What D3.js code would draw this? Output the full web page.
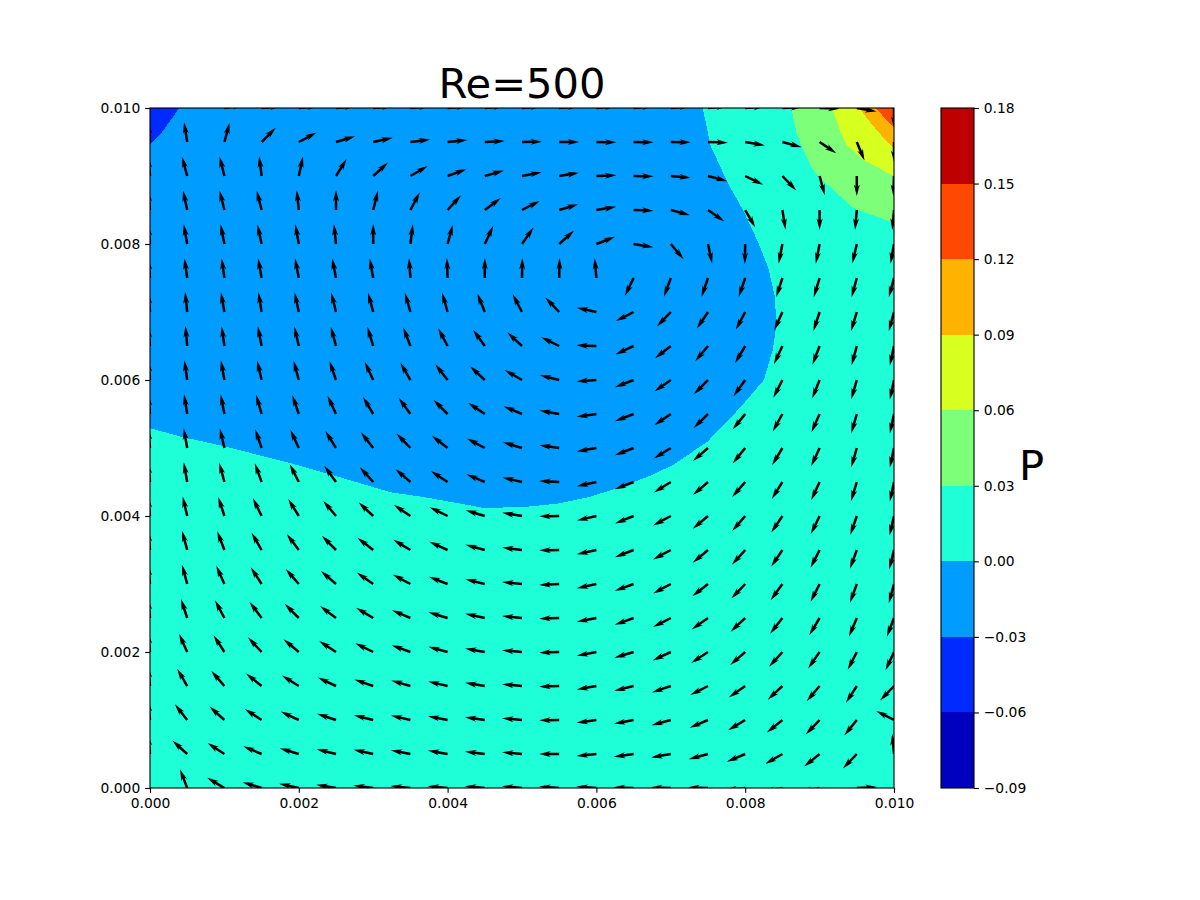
<!DOCTYPE html>
<html>
<head>
<meta charset="utf-8">
<script src="https://cdn.jsdelivr.net/npm/d3@7"></script>
<style>
  body { margin: 0; background: #fff; }
  text { font-family: "DejaVu Sans", sans-serif; }
</style>
</head>
<body>
<script>
// DATA
var gridX = [0, 0.0005, 0.001, 0.0015, 0.002, 0.0025, 0.003, 0.0035, 0.004, 0.0045, 0.005,
             0.0055, 0.006, 0.0065, 0.007, 0.0075, 0.008, 0.0085, 0.009, 0.0095, 0.01];
var gridY = gridX.slice();

// arrow direction in degrees, one row per gridY value (bottom to top), one entry per gridX value
var arrowAngles = [
  [180,111,149,163,168,171,173,174,175,175,175,176,176,178,178,178,185,190,190,3,270],
  [96,138,147,157,163,166,168,169,170,173,175,180,186,188,190,195,203,210,219,226,95],
  [96,128,138,147,155,162,166,167,169,172,175,181,188,191,195,203,211,219,226,231,153],
  [96,120,131,141,148,155,161,164,167,171,175,182,190,194,199,207,215,223,230,237,226],
  [96,114,123,133,140,147,154,160,165,170,175,182,191,197,205,213,221,228,235,243,245],
  [96,108,118,127,135,143,149,157,163,168,174,182,191,200,207,215,223,232,239,247,249],
  [96,105,114,123,131,139,145,152,159,166,174,183,192,200,208,218,226,234,243,250,255],
  [96,105,111,120,127,135,142,149,156,165,173,181,192,201,208,220,228,236,243,250,256],
  [96,103,108,116,122,130,137,146,154,163,171,181,193,202,208,220,229,236,244,251,257],
  [96,100,105,110,117,126,132,139,147,157,167,177,192,201,212,221,229,238,245,253,258],
  [96,100,103,109,115,122,128,134,142,152,163,172,190,201,212,221,231,239,245,254,258],
  [96,99,101,106,109,115,121,126,135,146,157,170,188,201,214,224,231,241,246,254,258],
  [96,98,100,103,105,109,115,120,128,137,150,166,184,201,215,225,234,243,248,254,258],
  [96,95,98,101,103,105,107,111,118,126,137,154,178,205,218,230,239,245,249,255,258],
  [96,96,100,99,102,104,105,106,106,112,118,134,168,207,226,236,242,246,252,253,255],
  [96,98,98,100,101,101,100,94,92,90,89,89,95,244,250,251,251,252,253,255,255],
  [96,100,101,102,100,96,90,83,75,65,55,42,21,-9,-50,-78,-91,-101,-101,-103,-100],
  [96,102,104,104,96,90,76,62,48,37,27,17,9,-2,-15,-35,-60,-81,-90,-95,-95],
  [96,105,104,97,78,58,42,30,20,16,11,9,2,-1,-5,-15,-26,-46,-75,-90,-92],
  [96,99,75,45,28,17,12,7,6,3,1,0,-1,-1,-1,-2,-10,-15,-34,-67.5,-90],
  [180,90,10,6,6,6,6,6,6,6,6,6,6,6,6,6,5,3,-2,-10,270]
];

// contour outlines, in data units
var contourZero = [[0,0.00529],[0.00044,0.00516],[0.00094,0.00504],[0.00188,0.00478],[0.00255,0.00457],
  [0.00323,0.00435],[0.00367,0.00428],[0.00413,0.00419],[0.00448,0.00412],[0.00501,0.00413],[0.00547,0.00418],
  [0.00591,0.00428],[0.00628,0.00441],[0.00672,0.00459],[0.00703,0.00475],[0.00749,0.00509],[0.00793,0.00559],
  [0.00825,0.006],[0.00837,0.00644],[0.00841,0.00674],[0.00841,0.00699],[0.0084,0.00722],[0.00831,0.00765],
  [0.00816,0.00806],[0.00797,0.0085],[0.00776,0.00891],[0.00753,0.00946],[0.00743,0.01],[0,0.01]];
var contourMinus3 = [[0,0.01],[0.00039,0.01],[0.00031,0.00987],[0.00013,0.0096],[0,0.00947]];
var contour3 = [[0.00862,0.01],[0.00869,0.00963],[0.00876,0.00943],[0.00891,0.00909],[0.0091,0.00888],
  [0.00945,0.00853],[0.00997,0.00832],[0.01,0.00831],[0.01,0.01]];
var contour6 = [[0.00917,0.01],[0.00927,0.00968],[0.00936,0.00946],[0.00958,0.00924],[0.01,0.009],[0.01,0.01]];
var contour9 = [[0.00953,0.01],[0.00968,0.00979],[0.00985,0.00957],[0.01,0.00941],[0.01,0.01]];
var contour12 = [[0.00975,0.01],[0.01,0.00971],[0.01,0.01]];

var levels = [-0.09, -0.06, -0.03, 0, 0.03, 0.06, 0.09, 0.12, 0.15, 0.18];
var levelColors = ["#0000bf", "#002aff", "#009cff", "#1fffd7", "#7dff7a", "#d7ff1f", "#ffb200", "#ff4900", "#bf0000"];
var axisTicks = [0, 0.002, 0.004, 0.006, 0.008, 0.01];
var titleText = "Re=500";
var barLabel = "P";

// LAYOUT
var width = 1200;
var height = 900;
var left = 150, right = 894, top_ = 108, bottom = 788;
var barLeft = 941, barRight = 974;
var bigFont = 41.67, tickFont = 13.89;
var tickLen = 4.86, lineW = 1.11;

// arrow shape in px
var arrowLen = 20, shaftW = 2.5, headW = 6, headLen = 11.5, headAxis = 9.5;

var x = d3.scaleLinear().domain([0, 0.01]).range([left, right]);
var y = d3.scaleLinear().domain([0, 0.01]).range([bottom, top_]);
var barY = d3.scaleLinear().domain([-0.09, 0.18]).range([bottom, top_]);

var svg = d3.select("body").append("svg")
    .attr("width", width)
    .attr("height", height)
    .style("display", "block");

svg.append("clipPath").attr("id", "plot-clip")
  .append("rect")
    .attr("x", left).attr("y", top_)
    .attr("width", right - left).attr("height", bottom - top_);

var plot = svg.append("g").attr("clip-path", "url(#plot-clip)");

// filled contours, painted from the background level up
plot.append("rect")
    .attr("x", left).attr("y", top_)
    .attr("width", right - left).attr("height", bottom - top_)
    .attr("fill", levelColors[3]);

var outline = d3.line().x(function(d) { return x(d[0]); }).y(function(d) { return y(d[1]); });
var regions = [
  [contourZero, levelColors[2]],
  [contourMinus3, levelColors[1]],
  [contour3, levelColors[4]],
  [contour6, levelColors[5]],
  [contour9, levelColors[6]],
  [contour12, levelColors[7]]
];
plot.selectAll("path.region").data(regions).enter().append("path")
    .attr("class", "region")
    .attr("d", function(d) { return outline(d[0]) + "Z"; })
    .attr("fill", function(d) { return d[1]; })
    .attr("shape-rendering", "crispEdges");

// quiver
var arrowShape = d3.line()([
  [0, -shaftW / 2],
  [arrowLen - headAxis, -shaftW / 2],
  [arrowLen - headLen, -headW / 2],
  [arrowLen, 0],
  [arrowLen - headLen, headW / 2],
  [arrowLen - headAxis, shaftW / 2],
  [0, shaftW / 2]
]) + "Z";

var arrows = [];
arrowAngles.forEach(function(row, j) {
  row.forEach(function(angle, i) {
    arrows.push({ px: gridX[i], py: gridY[j], angle: angle });
  });
});
plot.selectAll("path.arrow").data(arrows).enter().append("path")
    .attr("class", "arrow")
    .attr("d", arrowShape)
    .attr("fill", "#000")
    .attr("transform", function(d) {
      return "translate(" + x(d.px) + "," + y(d.py) + ") rotate(" + (-d.angle) + ")";
    });

// axes
function styleAxis(g) {
  g.select(".domain").remove();
  g.selectAll(".tick line").attr("stroke", "#000").attr("stroke-width", lineW);
  g.selectAll(".tick text").attr("fill", "#000")
    .style("font-size", tickFont + "px")
    .style("font-family", "'DejaVu Sans', sans-serif");
}

svg.append("g")
    .attr("transform", "translate(0," + bottom + ")")
    .call(d3.axisBottom(x).tickValues(axisTicks).tickFormat(d3.format(".3f"))
      .tickSize(tickLen).tickPadding(tickLen))
    .call(styleAxis);

svg.append("g")
    .attr("transform", "translate(" + left + ",0)")
    .call(d3.axisLeft(y).tickValues(axisTicks).tickFormat(d3.format(".3f"))
      .tickSize(tickLen).tickPadding(tickLen))
    .call(styleAxis);

svg.append("rect")
    .attr("x", left).attr("y", top_)
    .attr("width", right - left).attr("height", bottom - top_)
    .attr("fill", "none").attr("stroke", "#000").attr("stroke-width", lineW);

svg.append("text")
    .attr("x", (left + right) / 2)
    .attr("y", top_ - 9.8)
    .attr("text-anchor", "middle")
    .style("font-size", bigFont + "px")
    .text(titleText);

// colorbar
svg.selectAll("rect.cell").data(levelColors).enter().append("rect")
    .attr("class", "cell")
    .attr("x", barLeft)
    .attr("width", barRight - barLeft)
    .attr("y", function(d, i) { return barY(levels[i + 1]); })
    .attr("height", function(d, i) { return barY(levels[i]) - barY(levels[i + 1]); })
    .attr("fill", function(d) { return d; })
    .attr("shape-rendering", "crispEdges");

svg.append("g")
    .attr("transform", "translate(" + barRight + ",0)")
    .call(d3.axisRight(barY).tickValues(levels)
      .tickFormat(function(d) { return d3.format(".2f")(d).replace("-", "\u2212"); })
      .tickSize(tickLen).tickPadding(tickLen))
    .call(styleAxis);

svg.append("rect")
    .attr("x", barLeft).attr("y", top_)
    .attr("width", barRight - barLeft).attr("height", bottom - top_)
    .attr("fill", "none").attr("stroke", "#000").attr("stroke-width", lineW);

svg.append("text")
    .attr("x", 1019)
    .attr("y", 480)
    .style("font-size", bigFont + "px")
    .text(barLabel);
</script>
</body>
</html>
